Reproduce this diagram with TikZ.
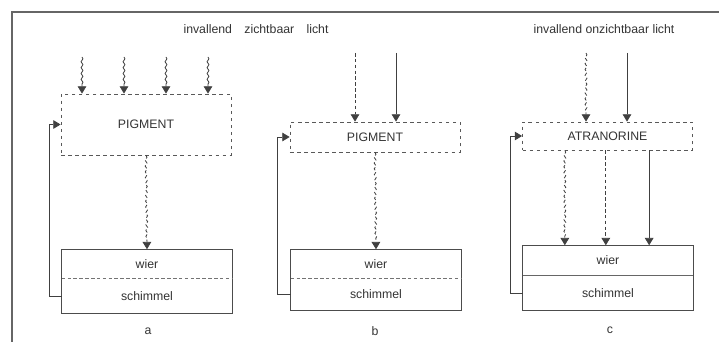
\documentclass[tikz,border=0pt]{standalone}
\usepackage{fontspec}
\setmainfont{Liberation Sans}
\usetikzlibrary{
    arrows.meta,
    positioning,
    fit,
    decorations.pathmorphing
}

\begin{document}
\begin{tikzpicture}[
        x=0.03cm, y=-0.03cm,
        every node/.style={font=\fontsize{10.5}{12}\selectfont,text=black!80},
        layerbox/.style={
            rectangle,
            draw=black!65,
            dashed,
            line width=0.7pt,
            minimum width=5.1cm,
            inner sep=0pt
        },
        half/.style={
            rectangle,
            minimum width=5.1cm,
            inner sep=0pt
        },
        thallus/.style={rectangle,draw=black!70,line width=0.9pt,inner sep=0pt},
        divider/.style={draw=black!55,densely dashed,line width=0.6pt},
        arrow/.style={
            -{Triangle[length=2.2mm,width=2.6mm]},
            line width=0.7pt,
            draw=black!75
        },
        wavy/.style={
            arrow,
            decorate,
            decoration={snake,amplitude=0.8pt,segment length=5pt,post length=2.6mm}
        },
        frame/.style={draw=black!60,line width=0.9pt}
    ]
        \useasboundingbox (0,0) rectangle (719,342);

        % Outer frame
        \coordinate (frameBL) at (12,342);
        \coordinate (frameTL) at (12,12);
        \coordinate (frameTR) at (719,12);
        \draw[frame] (frameBL) -- (frameTL) -- (frameTR);

        % Light labels
        \node (visLabel) at (256,29) {invallend\quad zichtbaar\quad licht};
        \node (uvLabel) at (604,29) {invallend onzichtbaar licht};

        % Panel a
        \node[layerbox, minimum height=1.83cm] (pigA) at (146,124.5) {PIGMENT};
        \node[half, minimum height=0.84cm] (wierA) at (147,264) {wier};
        \node[half, minimum height=1.05cm, below=0pt of wierA] (schimA) {schimmel};
        \node[thallus, fit=(wierA)(schimA)] (thA) {};
        \draw[divider] (wierA.south west) -- (wierA.south east);
        \node (capA) at (148,331) {a};

        \foreach \x [count=\i] in {82,124,166,208} {
            \coordinate (visA\i) at (\x,57);
            \draw[wavy] (visA\i) -- (visA\i |- pigA.north);
        }
        \draw[wavy, densely dashed] (pigA.south) -- (thA.north);
        \draw[arrow] (schimA.west) -- ++(-12,0) |- (pigA.west);

        % Panel b
        \node[layerbox, minimum height=0.9cm] (pigB) at (375,137) {PIGMENT};
        \node[half, minimum height=0.84cm] (wierB) at (376,264) {wier};
        \node[half, minimum height=0.96cm, below=0pt of wierB] (schimB) {schimmel};
        \node[thallus, fit=(wierB)(schimB)] (thB) {};
        \draw[divider] (wierB.south west) -- (wierB.south east);
        \node (capB) at (375,331) {b};

        \coordinate (visB1) at (355,53);
        \coordinate (visB2) at (396,53);
        \draw[arrow, densely dashed] (visB1) -- (visB1 |- pigB.north);
        \draw[arrow] (visB2) -- (visB2 |- pigB.north);
        \draw[wavy, densely dashed] (pigB.south) -- (thB.north);
        \draw[arrow] (schimB.west) -- ++(-13,0) |- (pigB.west);

        % Panel c
        \node[layerbox, minimum height=0.84cm] (atrC) at (607.5,136) {ATRANORINE};
        \node[half, minimum height=0.87cm] (wierC) at (608,260.5) {wier};
        \node[half, minimum height=1.05cm, below=0pt of wierC] (schimC) {schimmel};
        \node[thallus, fit=(wierC)(schimC)] (thC) {};
        \draw[draw=black!60, line width=0.6pt] (wierC.south west) -- (wierC.south east);
        \node (capC) at (610,330) {c};

        \coordinate (uvC1) at (586,53);
        \coordinate (uvC2) at (627,53);
        \draw[wavy, densely dashed] (uvC1) -- (uvC1 |- atrC.north);
        \draw[arrow] (uvC2) -- (uvC2 |- atrC.north);
        \draw[wavy, densely dashed] ([xshift=-1.28cm]atrC.south) -- ([xshift=-1.28cm]atrC.south |- thC.north);
        \draw[arrow, densely dashed] ([xshift=-0.05cm]atrC.south) -- ([xshift=-0.05cm]atrC.south |- thC.north);
        \draw[arrow] ([xshift=1.25cm]atrC.south) -- ([xshift=1.25cm]atrC.south |- thC.north);
        \draw[arrow] (schimC.west) -- ++(-12,0) |- (atrC.west);
    \end{tikzpicture}
\end{document}
